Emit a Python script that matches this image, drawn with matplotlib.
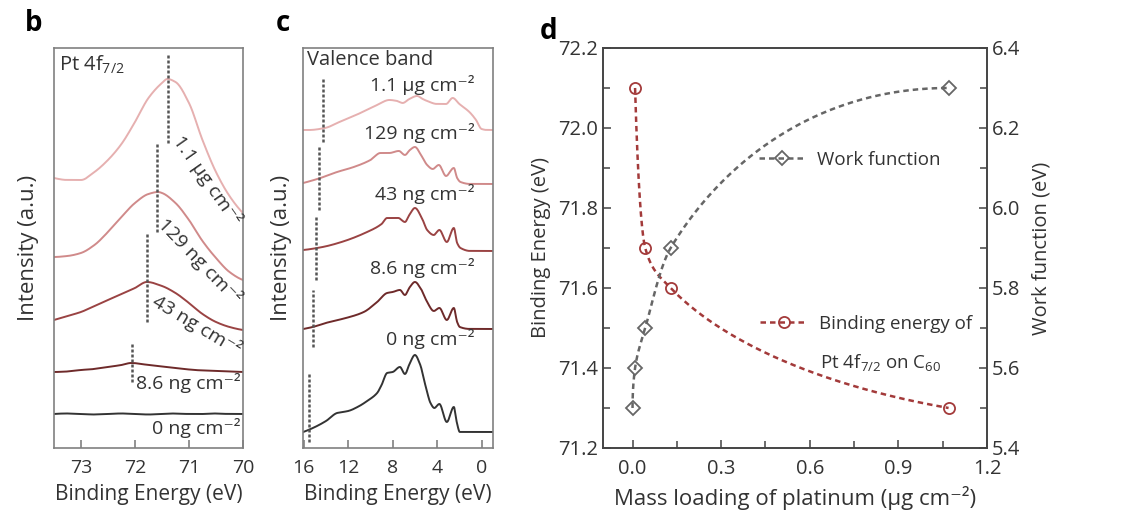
import numpy as np
import matplotlib.pyplot as plt
from matplotlib.ticker import MultipleLocator

plt.rcParams['font.family'] = ['Open Sans', 'DejaVu Sans']
plt.rcParams['mathtext.fontset'] = 'custom'
plt.rcParams['mathtext.rm'] = 'Open Sans'
plt.rcParams['mathtext.it'] = 'Open Sans:italic'
plt.rcParams['mathtext.bf'] = 'Open Sans:bold'

TXT = '#333333'

# ---- panel b : Pt 4f7/2 spectra (stacked, a.u.) ----
b_e0 = [73.5, 73.25, 73.0, 72.75, 72.5, 72.25, 72.0, 71.75, 71.5, 71.25, 71.0, 70.75, 70.5, 70.25, 70.0]
b_i0 = [34, 34.5, 34, 33.5, 34, 34.5, 34, 33.5, 34, 34.5, 34, 34, 34.5, 34, 34]
b_e86 = [73.5, 73.25, 73.0, 72.75, 72.5, 72.25, 72.07, 71.75, 71.5, 71.25, 71.0, 70.75, 70.5, 70.25, 70.0]
b_i86 = [76, 76.5, 78, 79, 81, 83, 85, 83, 81.5, 80, 78.5, 77.5, 77, 76.5, 76]
b_e43 = [73.5, 73.25, 73.0, 72.75, 72.5, 72.25, 72.0, 71.78, 71.5, 71.25, 71.0, 70.75, 70.5, 70.25, 70.0]
b_i43 = [128, 132, 136, 142, 148, 154, 160, 166, 162, 155, 145, 134, 126, 121, 118]
b_e129 = [73.5, 73.25, 73.0, 72.75, 72.5, 72.25, 72.0, 71.75, 71.57, 71.5, 71.25, 71.0, 70.75, 70.5, 70.25, 70.0]
b_i129 = [191, 192, 195, 203, 216, 231, 245, 254, 256, 255, 245, 228, 207, 190, 176, 168]
b_e11 = [73.5, 73.25, 73.0, 72.75, 72.5, 72.25, 72.0, 71.75, 71.5, 71.4, 71.25, 71.0, 70.75, 70.5, 70.25, 70.0]
b_i11 = [270, 268, 268, 276, 288, 304, 326, 350, 365, 369, 366, 345, 308, 276, 252, 235]

b_peak = [72.05, 71.77, 71.6, 71.38]
b_peak_lo = [66, 126, 216, 305]
b_peak_hi = [106, 216, 305, 393]

# ---- panel c : valence band ----
c_e0 = [16.05, 15.18, 14.0, 13.0, 12.0, 11.0, 10.3, 9.4, 9.0, 8.5, 8.0, 7.35, 6.9, 6.45, 6.0, 5.55, 4.93, 4.6, 4.25, 3.8, 3.13, 2.5, 2.2, 1.96, 1.0, 0.0, -1.0]
c_i0 = [16, 20, 27, 35, 37, 42, 47, 55, 63, 75, 76, 81, 74, 85, 93, 84, 57, 45, 40, 44, 26, 41, 24, 16, 16, 16, 16]
c_e86 = [16.05, 15.2, 13.7, 12.2, 10.6, 9.4, 8.5, 8.0, 7.35, 6.9, 6.45, 6.0, 5.4, 4.9, 4.3, 3.8, 3.13, 2.5, 2.2, 1.96, 1.0, -1.0]
c_i86 = [119, 121, 126, 130, 136, 146, 155, 156, 158, 153, 161, 166, 158, 146, 137, 140, 128, 140, 126, 121, 119, 119]
c_e43 = [16.05, 14.3, 12.6, 10.3, 9.0, 8.5, 7.5, 6.9, 6.45, 6.0, 5.3, 4.9, 4.3, 3.8, 3.13, 2.5, 2.2, 1.9, 1.0, -1.0]
c_i43 = [198, 201, 206, 216, 224, 230, 230, 226, 234, 240, 228, 218, 213, 218, 206, 220, 205, 200, 197, 197]
c_e129 = [16.05, 14.5, 13.0, 11.5, 10.0, 9.1, 8.3, 7.45, 6.9, 6.45, 6.0, 5.4, 4.9, 4.4, 3.85, 3.2, 2.5, 2.2, 1.9, 1.0, -1.0]
c_i129 = [265, 270, 276, 281, 288, 295, 295, 297, 293, 298, 301, 292, 283, 279, 283, 272, 280, 270, 266, 264, 264]
c_e11 = [16.05, 15.5, 14.1, 12.6, 10.9, 9.4, 8.3, 7.6, 7.1, 6.5, 5.8, 5.3, 4.9, 4.0, 3.2, 2.6, 2.0, 1.1, 0.5, 0.0, -0.5, -1.0]
c_i11 = [318, 318, 320, 327, 335, 343, 348, 347, 345, 349, 352, 349, 347, 344, 344, 350, 344, 336, 328, 319, 318, 318]

c_edge = [15.54, 15.2, 14.93, 14.64, 14.25]
c_edge_lo = [6, 101, 168, 238, 306]
c_edge_hi = [76, 158, 233, 303, 370]

loadings = ['0 ng cm⁻²', '8.6 ng cm⁻²', '43 ng cm⁻²', '129 ng cm⁻²', '1.1 µg cm⁻²']
colors = ['#333333', '#6e2a2a', '#9a4343', '#d08a8a', '#e6b0b0']

# ---- panel d ----
mass_be = [0.0086, 0.043, 0.129, 1.07]
be = [72.1, 71.7, 71.6, 71.3]
mass_wf = [0.0, 0.0086, 0.043, 0.129, 1.07]
wf = [5.5, 5.6, 5.7, 5.9, 6.3]


def pchip(x, y, xn):
    x = np.asarray(x, float)
    y = np.asarray(y, float)
    h = np.diff(x)
    d = np.diff(y) / h
    m = np.zeros_like(y)
    for k in range(1, len(x) - 1):
        if d[k - 1] * d[k] > 0:
            w1 = 2 * h[k] + h[k - 1]
            w2 = h[k] + 2 * h[k - 1]
            m[k] = (w1 + w2) / (w1 / d[k - 1] + w2 / d[k])

    def end(h0, h1, d0, d1):
        s = ((2 * h0 + h1) * d0 - h0 * d1) / (h0 + h1)
        if np.sign(s) != np.sign(d0):
            s = 0.0
        elif np.sign(d0) != np.sign(d1) and abs(s) > abs(3 * d0):
            s = 3 * d0
        return s

    m[0] = end(h[0], h[1], d[0], d[1])
    m[-1] = end(h[-1], h[-2], d[-1], d[-2])
    k = np.clip(np.searchsorted(x, xn) - 1, 0, len(x) - 2)
    t = (xn - x[k]) / h[k]
    h00 = 2 * t**3 - 3 * t**2 + 1
    h10 = t**3 - 2 * t**2 + t
    h01 = -2 * t**3 + 3 * t**2
    h11 = t**3 - t**2
    return h00 * y[k] + h10 * h[k] * m[k] + h01 * y[k + 1] + h11 * h[k] * m[k + 1]


def smooth(e, i):
    e = np.asarray(e, float)[::-1]
    i = np.asarray(i, float)[::-1]
    en = np.linspace(e[0], e[-1], 500)
    return en, pchip(e, i, en)


def guide(x, y):
    # smooth guide-to-the-eye through the points, drawn on a sqrt(x) scale
    u = np.sqrt(np.asarray(x, float))
    un = np.linspace(u[0], u[-1], 500)
    return un**2, pchip(u, y, un)


fig = plt.figure(figsize=(11.29, 5.17), dpi=100)

def style_spec(ax, pad):
    for s in ax.spines.values():
        s.set_color('#808080')
        s.set_linewidth(1.2)
    ax.set_yticks([])
    ax.tick_params(axis='x', direction='in', length=6, width=1.2, color='#808080',
                   labelsize=14, labelcolor=TXT, pad=8)
    ax.set_ylim(0, 400)
    ax.set_xlabel('Binding Energy (eV)', fontsize=15, color=TXT, labelpad=5)
    ax.set_ylabel('Intensity (a.u.)', fontsize=16, color=TXT, labelpad=pad)

# panel b
axb = fig.add_axes([0.0478, 0.1335, 0.1674, 0.7737])
b_e = [b_e0, b_e86, b_e43, b_e129, b_e11]
b_i = [b_i0, b_i86, b_i43, b_i129, b_i11]
for e, i, c in zip(b_e, b_i, colors):
    axb.plot(*smooth(e, i), color=c, lw=1.4)
axb.vlines(b_peak, b_peak_lo, b_peak_hi, colors='#555555', linestyles=(0, (1.2, 0.8)), lw=1.8)
axb.set_xlim(73.5, 70)
axb.set_xticks([73, 72, 71, 70])
style_spec(axb, 11)
axb.text(73.41, 383, 'Pt 4f$_{7/2}$', fontsize=14.5, color=TXT, va='center')
axb.text(70.05, 20, loadings[0], fontsize=14, color=TXT, ha='right', va='center')
axb.text(70.05, 65, loadings[1], fontsize=14, color=TXT, ha='right', va='center')
axb.text(70.85, 123, loadings[2], fontsize=14, color=TXT, ha='center', va='center', rotation=-31)
axb.text(70.80, 187, loadings[3], fontsize=14, color=TXT, ha='center', va='center', rotation=-46)
axb.text(70.66, 268, loadings[4], fontsize=14, color=TXT, ha='center', va='center', rotation=-55)
fig.text(0.022, 0.94, 'b', fontsize=20, fontweight='bold', color='black')

# panel c
axc = fig.add_axes([0.2686, 0.1335, 0.1678, 0.7737])
c_e = [c_e0, c_e86, c_e43, c_e129, c_e11]
c_i = [c_i0, c_i86, c_i43, c_i129, c_i11]
for e, i, c in zip(c_e, c_i, colors):
    axc.plot(*smooth(e, i), color=c, lw=1.4)
axc.vlines(c_edge, c_edge_lo, c_edge_hi, colors='#555555', linestyles=(0, (1.2, 0.8)), lw=1.8)
axc.set_xlim(16.05, -1)
axc.set_xticks([16, 12, 8, 4, 0])
style_spec(axc, 8)
axc.text(15.75, 388, 'Valence band', fontsize=14.5, color=TXT, va='center')
for h, lab in zip([109, 180, 254, 315, 363], loadings):
    axc.text(0.6, h, lab, fontsize=14, color=TXT, ha='right', va='center')
fig.text(0.244, 0.94, 'c', fontsize=20, fontweight='bold', color='black')

# panel d
axd = fig.add_axes([0.5341, 0.1335, 0.3401, 0.7737])
axd2 = axd.twinx()
red = '#a33a3a'
gray = '#666666'
dash = (0, (2.2, 1.6))
axd.plot(*guide(mass_be, be), color=red, lw=1.8, ls=dash)
axd.plot(mass_be, be, ls='none', marker='o', ms=8, mfc='none', mec=red, mew=1.3)
axd2.plot(*guide(mass_wf, wf), color=gray, lw=1.8, ls=dash)
axd2.plot(mass_wf, wf, ls='none', marker='D', ms=7, mfc='none', mec=gray, mew=1.3)

axd.set_xlim(-0.1, 1.2)
axd.set_ylim(71.2, 72.2)
axd2.set_ylim(5.4, 6.4)
axd.set_xticks([0.0, 0.3, 0.6, 0.9, 1.2])
axd.xaxis.set_minor_locator(MultipleLocator(0.15))
axd.yaxis.set_major_locator(MultipleLocator(0.2))
axd.yaxis.set_minor_locator(MultipleLocator(0.1))
axd2.yaxis.set_major_locator(MultipleLocator(0.2))
axd2.yaxis.set_minor_locator(MultipleLocator(0.1))
axd.set_xticklabels(['0.0', '0.3', '0.6', '0.9', '1.2'])
axd.set_yticklabels(['%.1f' % v for v in axd.get_yticks()])
axd2.set_yticklabels(['%.1f' % v for v in axd2.get_yticks()])
for a in (axd, axd2):
    for s in a.spines.values():
        s.set_color('#444444')
        s.set_linewidth(1.2)
    a.tick_params(which='both', direction='in', width=1.1, color='#444444',
                  labelsize=14.5, labelcolor=TXT)
    a.tick_params(which='major', length=6)
    a.tick_params(which='minor', length=5)
axd.tick_params(axis='x', pad=8)
axd.set_xlabel('Mass loading of platinum (µg cm⁻²)', fontsize=16, color=TXT, labelpad=5)
axd.set_ylabel('Binding Energy (eV)', fontsize=14.5, color=TXT, labelpad=5)
axd2.set_ylabel('Work function (eV)', fontsize=14.5, color=TXT, labelpad=8)

h_wf, = axd2.plot([], [], color=gray, lw=1.8, ls=dash, marker='D', ms=7, mfc='none', mec=gray, mew=1.3)
h_be, = axd2.plot([], [], color=red, lw=1.8, ls=dash, marker='o', ms=8, mfc='none', mec=red, mew=1.3)
leg1 = axd2.legend([h_wf], ['Work function'], loc='center left', bbox_to_anchor=(0.405, 0.72),
                   frameon=False, handlelength=2.5, handletextpad=0.6, borderaxespad=0, borderpad=0,
                   prop={'size': 13.5})
for t in leg1.get_texts():
    t.set_color(TXT)
axd2.add_artist(leg1)
leg2 = axd2.legend([h_be], ['Binding energy of'], loc='center left', bbox_to_anchor=(0.41, 0.31),
                   frameon=False, handlelength=2.5, handletextpad=0.6, borderaxespad=0, borderpad=0,
                   prop={'size': 13.5})
for t in leg2.get_texts():
    t.set_color(TXT)
axd2.text(0.565, 0.2125, 'Pt 4f$_{7/2}$ on C$_{60}$', transform=axd2.transAxes,
          fontsize=13.5, color=TXT, va='center')
fig.text(0.478, 0.925, 'd', fontsize=20, fontweight='bold', color='black')

fig.savefig('out.png', dpi=100)
